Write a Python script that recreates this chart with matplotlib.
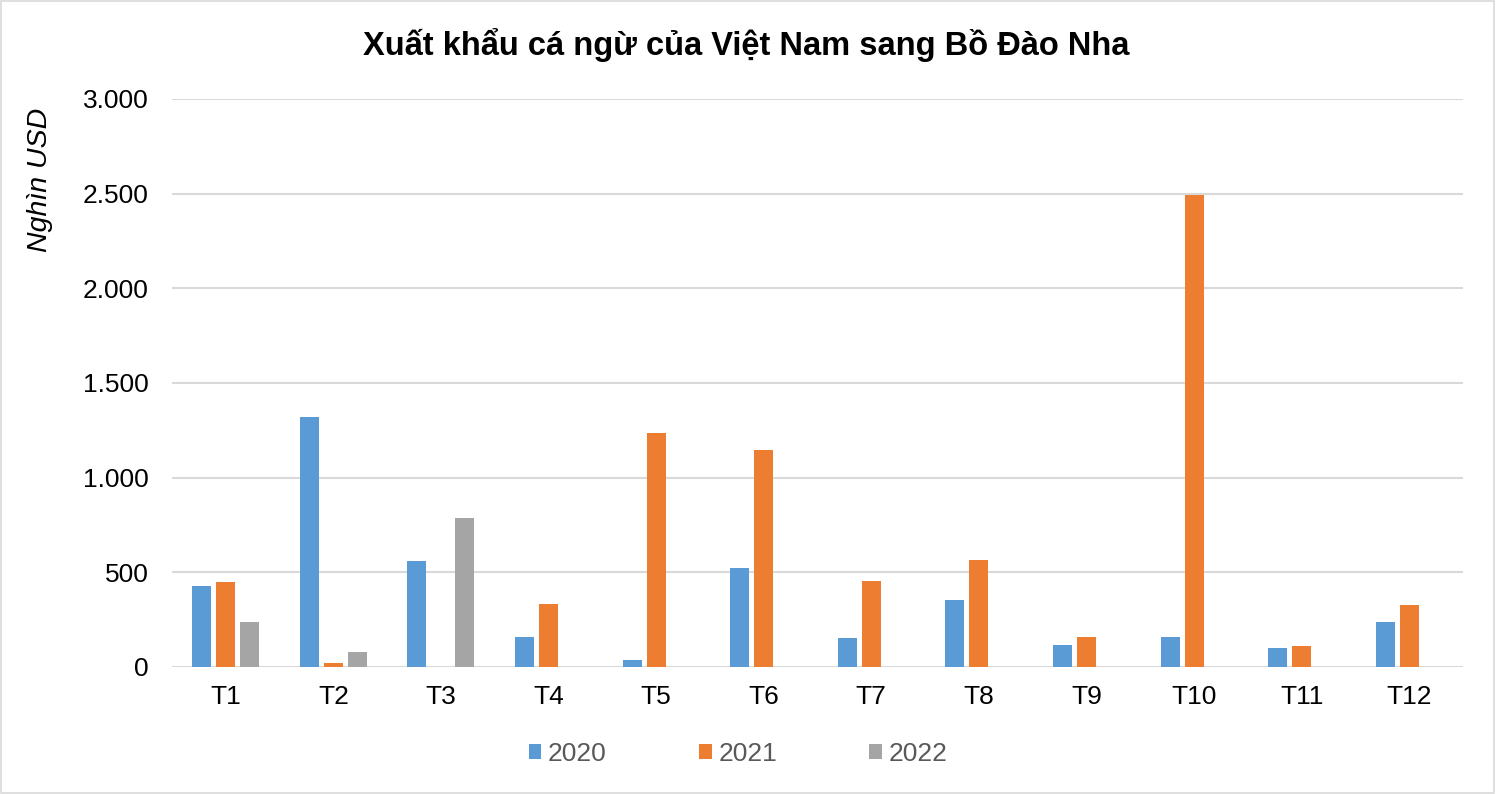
import matplotlib
matplotlib.use("Agg")
import matplotlib.pyplot as plt
import numpy as np
from matplotlib.patches import Patch, Rectangle

months = ["T1", "T2", "T3", "T4", "T5", "T6", "T7", "T8", "T9", "T10", "T11", "T12"]
v2020 = [430, 1320, 562, 156, 35, 525, 151, 356, 114, 161, 98, 240]
v2021 = [451, 19, 0, 335, 1235, 1146, 456, 567, 161, 2495, 109, 325]
v2022 = [240, 77, 788, 0, 0, 0, 0, 0, 0, 0, 0, 0]
years = ["2020", "2021", "2022"]
colors = ["#5B9BD5", "#ED7D31", "#A5A5A5"]
yticks = [0, 500, 1000, 1500, 2000, 2500, 3000]
ytick_labels = ["0", "500", "1.000", "1.500", "2.000", "2.500", "3.000"]

plt.rcParams['font.family'] = ['Liberation Sans', 'DejaVu Sans']

fig = plt.figure(figsize=(14.96, 7.94), dpi=100)
ax = fig.add_axes([172/1496, 1 - 667/794, (1463-172)/1496, (667-99)/794])

x = np.arange(len(months))
w = 0.177
step = 0.223
for i, (vals, c) in enumerate(zip([v2020, v2021, v2022], colors)):
    ax.bar(x + (i - 1) * step, vals, width=w, color=c, zorder=3)

ax.set_xlim(-0.5, len(months) - 0.5)
ax.set_ylim(0, 3000)
ax.set_yticks(yticks)
ax.set_yticklabels(ytick_labels)
ax.set_xticks(x)
ax.set_xticklabels(months)
ax.grid(axis='y', color='#D9D9D9', linewidth=1.5, zorder=0)
for s in ax.spines.values():
    s.set_visible(False)
ax.tick_params(axis='both', length=0, labelsize=19, colors='black')
ax.tick_params(axis='y', pad=17)
ax.tick_params(axis='x', pad=13)

fig.text(746/1496, 1 - 45/794, "Xuất khẩu cá ngừ của Việt Nam sang Bồ Đào Nha",
         ha='center', va='center', fontsize=23.5, fontweight='bold')
fig.text(40/1496, 1 - 180/794, "Nghìn USD", rotation=90, ha='center', va='center',
         fontsize=20.5, style='italic')

handles = [Patch(facecolor=c, edgecolor='none') for c in colors]
leg = fig.legend(handles, years, loc='center', bbox_to_anchor=(738/1496, 1 - 754/794),
                 ncol=3, frameon=False, fontsize=19, handlelength=0.48, handleheight=0.48,
                 handletextpad=0.25, columnspacing=3.5, borderpad=0, borderaxespad=0)
for t in leg.get_texts():
    t.set_color('#595959')

# chart border
fig.patches.append(Rectangle((1/1496, 1/794), 1493/1496, 792/794, transform=fig.transFigure,
                             fill=False, edgecolor='#D9D9D9', linewidth=1.2))

fig.savefig("out.png", dpi=100)
